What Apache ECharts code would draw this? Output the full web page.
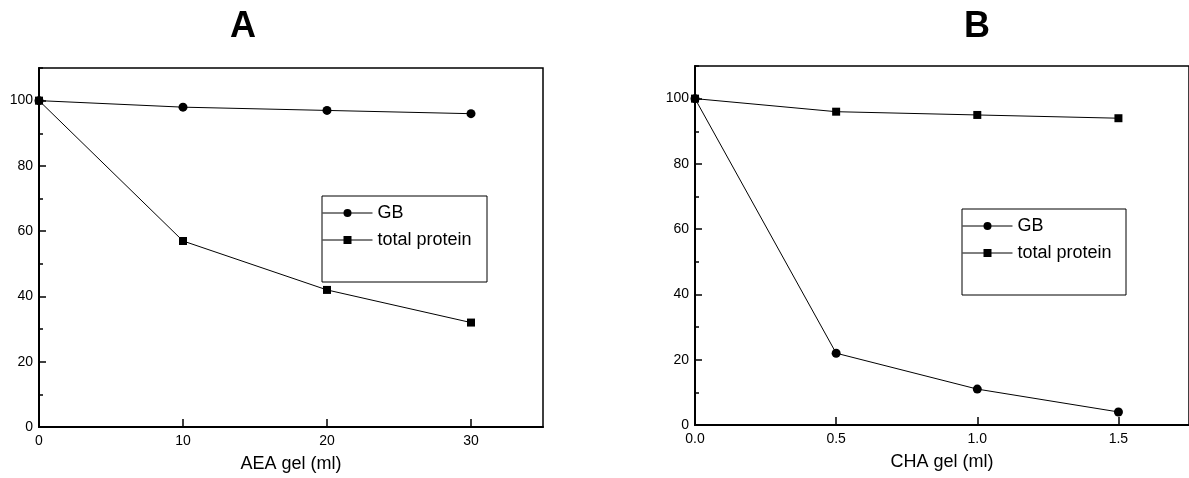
<!DOCTYPE html>
<html style="height: 100%">
   <head>
       <meta charset="utf-8">
   </head>
   <body style="height: 100%; margin: 0; background: #fff">
       <div id="container" style="width: 1189px; height: 478px"></div>
       <script type="text/javascript" src="https://cdn.jsdelivr.net/npm/echarts@6/dist/echarts.min.js"></script>
       <script type="text/javascript">
// panel A: AEA gel
var aeaX = [0, 10, 20, 30];
var aeaGB = [100, 98, 97, 96];
var aeaProtein = [100, 57, 42, 32];
// panel B: CHA gel
var chaX = [0, 0.5, 1.0, 1.5];
var chaGB = [100, 22, 11, 4];
var chaProtein = [100, 96, 95, 94];
var seriesNames = ['GB', 'total protein'];

var font = 'Liberation Sans, Arial, sans-serif';

function pairs(xs, ys) {
    return xs.map(function (x, i) { return [x, ys[i]]; });
}

function xAxisFor(grid, max, interval, name, fmt) {
    return {
        type: 'value', gridIndex: grid, min: 0, max: max, interval: interval,
        name: name, nameLocation: 'middle', nameGap: 28,
        nameTextStyle: { color: '#000', fontSize: 18, fontFamily: font },
        axisLine: { lineStyle: { color: '#000', width: 2 } },
        axisTick: { inside: true, length: 8, lineStyle: { color: '#000', width: 1.5 } },
        axisLabel: { color: '#000', fontSize: 14, fontFamily: font, margin: 7,
                     showMaxLabel: false, formatter: fmt },
        splitLine: { show: false }
    };
}

function yAxesFor(grid) {
    return [{
        type: 'value', gridIndex: grid, position: 'left', min: 0, max: 110, interval: 20,
        axisLine: { lineStyle: { color: '#000', width: 2 } },
        axisTick: { inside: true, length: 7, lineStyle: { color: '#000', width: 1.5 } },
        axisLabel: { color: '#000', fontSize: 14, fontFamily: font, margin: 6, showMaxLabel: false },
        splitLine: { show: false }
    }, {
        // minor ticks every 10
        type: 'value', gridIndex: grid, position: 'left', min: 0, max: 110, interval: 10,
        axisLine: { show: false },
        axisTick: { inside: true, length: 4, lineStyle: { color: '#000', width: 1.5 } },
        axisLabel: { show: false },
        splitLine: { show: false }
    }];
}

function line(name, grid, yIdx, data, symbol, size) {
    return {
        name: name, type: 'line', xAxisIndex: grid, yAxisIndex: yIdx,
        data: data, symbol: symbol, symbolSize: size,
        itemStyle: { color: '#000' },
        lineStyle: { color: '#000', width: 1 },
        animation: false
    };
}

function legendAt(left, top) {
    return {
        data: seriesNames, orient: 'vertical', left: left, top: top, padding: 0,
        itemWidth: 50, itemHeight: 10, itemGap: 9, selectedMode: false,
        lineStyle: { width: 1, color: '#000' },
        textStyle: { color: '#000', fontSize: 18, lineHeight: 18, fontFamily: font }
    };
}

var dom = document.getElementById("container");
var myChart = echarts.init(dom);
var option = {
    backgroundColor: '#fff',
    title: [
        { text: 'A', left: 230, top: 9, padding: 0,
          textStyle: { fontSize: 36, fontWeight: 'bold', fontFamily: font, color: '#000' } },
        { text: 'B', left: 964, top: 9, padding: 0,
          textStyle: { fontSize: 36, fontWeight: 'bold', fontFamily: font, color: '#000' } }
    ],
    grid: [
        { left: 39, top: 68, width: 504, height: 360, show: true,
          borderColor: '#000', borderWidth: 1.5, backgroundColor: 'transparent' },
        { left: 695, top: 66, width: 504, height: 359, show: true,
          borderColor: '#000', borderWidth: 1.5, backgroundColor: 'transparent' }
    ],
    xAxis: [
        xAxisFor(0, 35, 10, 'AEA gel (ml)', function (v) { return String(v); }),
        xAxisFor(1, 1.75, 0.5, 'CHA gel (ml)', function (v) { return v.toFixed(1); })
    ],
    yAxis: yAxesFor(0).concat(yAxesFor(1)),
    legend: [legendAt(322, 204), legendAt(962, 217)],
    graphic: [
        { type: 'rect', shape: { x: 322, y: 196, width: 165, height: 86 },
          style: { fill: 'none', stroke: '#000', lineWidth: 1 } },
        { type: 'rect', shape: { x: 962, y: 209, width: 164, height: 86 },
          style: { fill: 'none', stroke: '#000', lineWidth: 1 } }
    ],
    series: [
        line('GB', 0, 0, pairs(aeaX, aeaGB), 'circle', 9),
        line('total protein', 0, 0, pairs(aeaX, aeaProtein), 'rect', 8),
        line('GB', 1, 2, pairs(chaX, chaGB), 'circle', 9),
        line('total protein', 1, 2, pairs(chaX, chaProtein), 'rect', 8)
    ]
};

if (option && typeof option === "object") {
    myChart.setOption(option, true);
}
       </script>
   </body>
</html>
